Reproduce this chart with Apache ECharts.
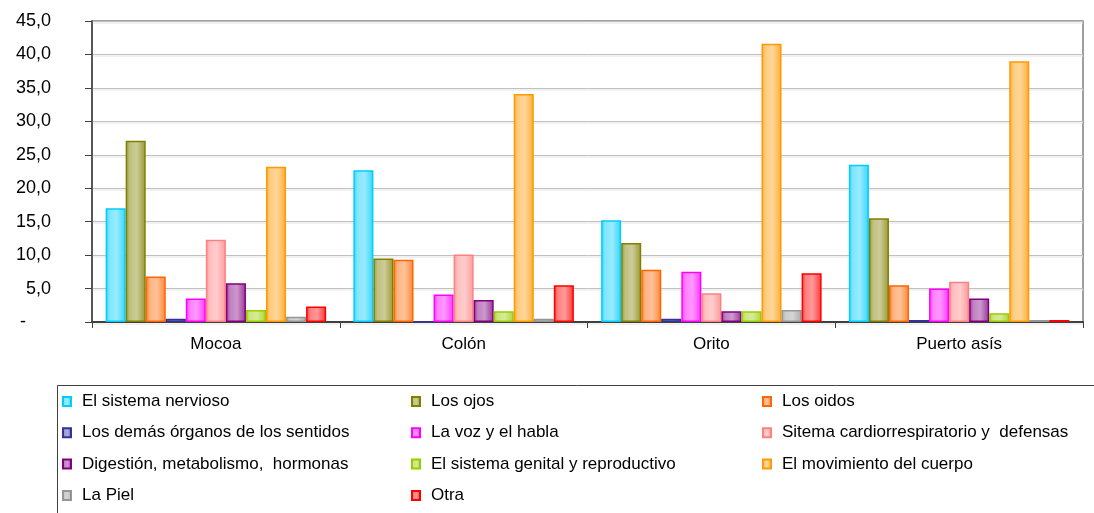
<!DOCTYPE html>
<html>
<head>
<meta charset="utf-8">
<title>Chart</title>
<script src="https://cdn.jsdelivr.net/npm/echarts@6/dist/echarts.min.js"></script>
<style>
  * { margin: 0; padding: 0; }
  body { background: #fff; }
  #main { width: 1094px; height: 513px; }
</style>
</head>
<body>
<div id="main"></div>
<script>
// categorias y valores (%)
var categories = ['Mocoa', 'Colón', 'Orito', 'Puerto asís'];
var nervioso   = [17.0, 22.7, 15.2, 23.5];
var ojos       = [27.1, 9.5, 11.8, 15.5];
var oidos      = [6.8, 9.3, 7.8, 5.5];
var demas      = [0.5, 0, 0.5, 0.3];
var voz        = [3.5, 4.1, 7.5, 5.0];
var cardio     = [12.3, 10.1, 4.3, 6.0];
var digestion  = [5.8, 3.3, 1.6, 3.5];
var genital    = [1.8, 1.6, 1.6, 1.3];
var movimiento = [23.2, 34.1, 41.6, 39.0];
var piel       = [0.8, 0.5, 1.8, 0.3];
var otra       = [2.3, 5.5, 7.3, 0.3];
var yTicks = [0, 5, 10, 15, 20, 25, 30, 35, 40, 45];

var seriesDef = [
  { name: 'El sistema nervioso', data: nervioso, color: '#00CCFF' },
  { name: 'Los ojos', data: ojos, color: '#808000' },
  { name: 'Los oidos', data: oidos, color: '#FF6600' },
  { name: 'Los demás órganos de los sentidos', data: demas, color: '#333399' },
  { name: 'La voz y el habla', data: voz, color: '#FF00FF' },
  { name: 'Sitema cardiorrespiratorio y  defensas', data: cardio, color: '#FF8080' },
  { name: 'Digestión, metabolismo,  hormonas', data: digestion, color: '#800080' },
  { name: 'El sistema genital y reproductivo', data: genital, color: '#99CC00' },
  { name: 'El movimiento del cuerpo', data: movimiento, color: '#FF9900' },
  { name: 'La Piel', data: piel, color: '#969696' },
  { name: 'Otra', data: otra, color: '#FF0000' }
];

function mix(hex, t) {
  var r = parseInt(hex.substr(1, 2), 16), g = parseInt(hex.substr(3, 2), 16), b = parseInt(hex.substr(5, 2), 16);
  r = Math.round(r + (255 - r) * t); g = Math.round(g + (255 - g) * t); b = Math.round(b + (255 - b) * t);
  return 'rgb(' + r + ',' + g + ',' + b + ')';
}

function fill(c) {
  return new echarts.graphic.LinearGradient(0, 0, 1, 0, [
    { offset: 0, color: mix(c, 0.2) },
    { offset: 0.2, color: mix(c, 0.5) },
    { offset: 0.55, color: mix(c, 0.6) },
    { offset: 1, color: mix(c, 0.2) }
  ]);
}

var FONT = '"Liberation Sans", Arial, sans-serif';

var series = seriesDef.map(function (s) {
  return {
    name: s.name,
    type: 'bar',
    data: s.data,
    barGap: '0%',
    barCategoryGap: '11%',
    itemStyle: { color: fill(s.color), borderColor: s.color, borderWidth: 1.5 }
  };
});

function legendCol(names, left) {
  return {
    orient: 'vertical',
    left: left,
    top: 393,
    padding: 0,
    itemWidth: 8,
    itemHeight: 9,
    itemGap: 14.3,
    icon: 'rect',
    data: names,
    textStyle: { fontFamily: FONT, fontSize: 17, color: '#000', lineHeight: 16, padding: [0, 0, 0, 6] }
  };
}

var chart = echarts.init(document.getElementById('main'));
chart.setOption({
  backgroundColor: '#fff',
  animation: false,
  grid: { left: 92, right: 11, top: 21, bottom: 191, show: true, borderColor: '#808080', borderWidth: 1.5 },
  legend: [
    legendCol([seriesDef[0].name, seriesDef[3].name, seriesDef[6].name, seriesDef[9].name], 62),
    legendCol([seriesDef[1].name, seriesDef[4].name, seriesDef[7].name, seriesDef[10].name], 411),
    legendCol([seriesDef[2].name, seriesDef[5].name, seriesDef[8].name], 762)
  ],
  graphic: [{
    type: 'rect',
    shape: { x: 57.5, y: 385.5, width: 1100, height: 200 },
    style: { fill: 'none', stroke: '#404040', lineWidth: 1 },
    silent: true
  }],
  xAxis: {
    type: 'category',
    data: categories,
    axisLine: { lineStyle: { color: '#404040', width: 2 } },
    axisTick: { show: true, length: 6, lineStyle: { color: '#404040' } },
    axisLabel: { fontFamily: FONT, fontSize: 17, color: '#000', margin: 14 }
  },
  yAxis: {
    type: 'value',
    min: yTicks[0],
    max: yTicks[yTicks.length - 1],
    interval: 5,
    axisLine: { show: true, lineStyle: { color: '#404040', width: 1.5 } },
    axisTick: { show: true, length: 7, lineStyle: { color: '#404040' } },
    splitLine: { lineStyle: { color: '#c0c0c0', width: 1, shadowColor: '#e4e4e4', shadowOffsetY: 1.5, shadowBlur: 0 } },
    axisLabel: {
      fontFamily: FONT, fontSize: 18, color: '#000', margin: 41,
      formatter: function (v) { return v === 0 ? '-     ' : v.toFixed(1).replace('.', ','); }
    }
  },
  series: series
});
</script>
</body>
</html>
